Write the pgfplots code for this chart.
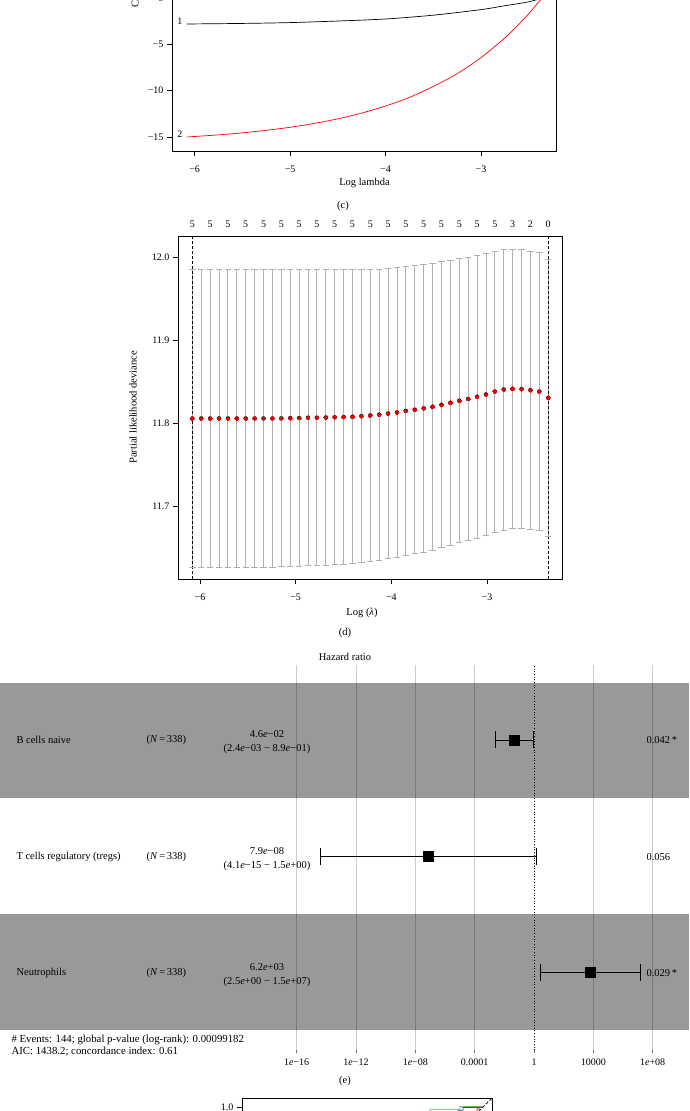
\documentclass[border=0pt]{standalone}
\usepackage{fontspec}
\setmainfont{Liberation Serif}
\usepackage{pgfplots}
\usepackage{pgfplotstable}
\pgfplotsset{compat=1.18}

\definecolor{errgray}{HTML}{B0B0B0}
\definecolor{cvred}{HTML}{F00000}
\definecolor{rocgreen}{HTML}{62B562}
\definecolor{rocblue}{HTML}{2E4B9B}
\definecolor{rocred}{HTML}{E8262B}

\newcommand{\lbl}{\fontsize{10.5}{12}\selectfont}
\newcommand{\tck}{\fontsize{10}{12}\selectfont}

% cross-validation curve (log lambda, deviance, se)
\pgfplotstableread{
x y e
-6.080 11.8056 0.1788
-5.987 11.8056 0.1788
-5.894 11.8056 0.1788
-5.801 11.8056 0.1788
-5.708 11.8056 0.1788
-5.615 11.8056 0.1788
-5.522 11.8056 0.1788
-5.429 11.8056 0.1788
-5.336 11.8056 0.1788
-5.243 11.8056 0.1788
-5.150 11.8057 0.1787
-5.057 11.8060 0.1784
-4.964 11.8061 0.1783
-4.871 11.8064 0.1780
-4.778 11.8065 0.1779
-4.685 11.8068 0.1776
-4.592 11.8070 0.1774
-4.499 11.8073 0.1771
-4.406 11.8077 0.1767
-4.313 11.8084 0.1762
-4.220 11.8092 0.1758
-4.127 11.8101 0.1753
-4.034 11.8115 0.1745
-3.941 11.8129 0.1740
-3.848 11.8147 0.1734
-3.755 11.8161 0.1731
-3.662 11.8177 0.1729
-3.569 11.8196 0.1730
-3.476 11.8220 0.1720
-3.383 11.8244 0.1716
-3.290 11.8268 0.1708
-3.197 11.8290 0.1702
-3.104 11.8316 0.1702
-3.011 11.8344 0.1696
-2.918 11.8380 0.1692
-2.825 11.8404 0.1690
-2.732 11.8412 0.1684
-2.639 11.8408 0.1680
-2.546 11.8396 0.1676
-2.453 11.8380 0.1676
-2.360 11.8304 0.1664
}\cvdata

% number of nonzero coefficients (top axis)
\pgfplotstableread{
x y n
-6.080 12.0252 5
-5.894 12.0252 5
-5.708 12.0252 5
-5.522 12.0252 5
-5.336 12.0252 5
-5.150 12.0252 5
-4.964 12.0252 5
-4.778 12.0252 5
-4.592 12.0252 5
-4.406 12.0252 5
-4.220 12.0252 5
-4.034 12.0252 5
-3.848 12.0252 5
-3.662 12.0252 5
-3.476 12.0252 5
-3.290 12.0252 5
-3.104 12.0252 5
-2.918 12.0252 5
-2.732 12.0252 3
-2.546 12.0252 2
-2.360 12.0252 0
}\nzdata

\pgfplotsset{
  rstyle/.style={
    scale only axis,
    axis line style={black, line width=0.8pt},
    tick align=outside,
    major tick length=5pt,
    tick style={black, line width=0.8pt},
    xtick pos=bottom, ytick pos=left,
    ticklabel style={font=\tck},
    xticklabel style={yshift=-6.5pt},
    /pgf/number format/assume math mode=true,
  }
}

\begin{document}
\begin{tikzpicture}
\useasboundingbox (0pt,0pt) rectangle (689pt,1111pt);
\clip (0pt,0pt) rectangle (689pt,1111pt);

% ---- (c) coefficient paths
\begin{axis}[rstyle,
  at={(172pt,960pt)}, anchor=south west,
  width=384pt, height=343pt,
  xmin=-6.237, xmax=-2.214, ymin=-16.51, ymax=20.49,
  xtick={-6,-5,-4,-3}, xticklabels={−6,−5,−4,−3},
  ytick={-15,-10,-5,0},
  yticklabels={−15,−10,−5,0},
]
\addplot[black, line width=0.7pt, smooth] coordinates {
  (-6.08,-2.81) (-5.5,-2.75) (-5.0,-2.66) (-4.5,-2.49) (-4.0,-2.27)
  (-3.5,-1.86) (-3.0,-1.26) (-2.75,-0.84) (-2.5,-0.42) (-2.36,0)};
\addplot[red, line width=0.7pt, smooth] coordinates {
  (-6.08,-15.0) (-5.75,-14.77) (-5.5,-14.55) (-5.25,-14.28) (-5.0,-13.95)
  (-4.75,-13.54) (-4.5,-13.04) (-4.25,-12.42) (-4.0,-11.66) (-3.75,-10.73)
  (-3.5,-9.55) (-3.25,-8.17) (-3.0,-6.44) (-2.75,-4.31) (-2.6,-2.8)
  (-2.5,-1.7) (-2.4,-0.49) (-2.36,0)};
\node[font=\tck] at (axis cs:-6.155,-2.55) {1};
\node[font=\tck] at (axis cs:-6.155,-14.75) {2};
\end{axis}

% ---- (d) cross-validation
\begin{axis}[rstyle,
  at={(178pt,532pt)}, anchor=south west,
  width=384pt, height=343pt,
  xmin=-6.230, xmax=-2.216, ymin=11.6124, ymax=12.0252,
  xtick={-6,-5,-4,-3}, xticklabels={−6,−5,−4,−3},
  ytick={11.7,11.8,11.9,12.0}, yticklabels={11.7,11.8,11.9,12.0},
  clip=false,
]
% error bars (mean +- se) with caps
\addplot[only marks, mark=none,
  error bars/.cd, y dir=both, y explicit, error mark=none,
  error bar style={color=errgray, line width=0.9pt}]
  table[x=x, y=y, y error=e] {\cvdata};
\addplot[only marks, mark=-, mark size=3.2pt, mark options={errgray, line width=0.9pt}]
  table[x=x, y expr=\thisrow{y}+\thisrow{e}] {\cvdata};
\addplot[only marks, mark=-, mark size=3.2pt, mark options={errgray, line width=0.9pt}]
  table[x=x, y expr=\thisrow{y}-\thisrow{e}] {\cvdata};
\addplot[only marks, mark=*, mark size=1.9pt, mark options={draw=cvred, fill=cvred, line width=0pt}]
  table[x=x, y=y] {\cvdata};
\addplot[black, line width=0.7pt, dash pattern=on 3pt off 2pt] coordinates {(-6.080,11.6124) (-6.080,12.0252)};
\addplot[black, line width=0.7pt, dash pattern=on 3pt off 2pt] coordinates {(-2.360,11.6124) (-2.360,12.0252)};
\addplot[draw=none, mark=none, nodes near coords, point meta=explicit symbolic,
  nodes near coords style={font=\tck, anchor=center, yshift=12pt, text=black}]
  table[x=x, y=y, meta=n] {\nzdata};
\end{axis}

% ---- (e) forest plot
\begin{axis}[
  at={(0pt,61pt)}, anchor=south west, scale only axis,
  width=689pt, height=385pt,
  xmode=log, log basis x=10,
  xmin=1e-36, xmax=2.8e10, ymin=0, ymax=385,
  axis line style={draw=none}, ytick=\empty,
  xtick={1e-16,1e-12,1e-8,1e-4,1e4,1e8},
  xticklabels={1\textit{e}−16,1\textit{e}−12,1\textit{e}−08,0.0001,10000,1\textit{e}+08},
  extra x ticks={1}, extra x tick labels={1},
  extra x tick style={grid=none},
  xmajorgrids, major grid style={color=black!20, line width=0.6pt},
  xtick pos=bottom, tick align=outside, major tick length=3pt,
  tick style={black!55, line width=0.6pt},
  ticklabel style={font=\tck},
  xticklabel style={yshift=-2pt},
  clip=false,
]
\fill[black, fill opacity=0.4] (axis cs:1e-36,252) rectangle (axis cs:2.8e10,367);
\fill[black, fill opacity=0.4] (axis cs:1e-36,20) rectangle (axis cs:2.8e10,136);
\draw[black, dotted, line width=0.7pt] (axis cs:1,0) -- (axis cs:1,385);
\addplot[black, line width=0.7pt, mark=|, mark size=8.5pt] coordinates {(0.0024,310) (0.89,310)};
\addplot[black, line width=0.7pt, mark=|, mark size=8.5pt] coordinates {(4.1e-15,193.3) (1.5,193.3)};
\addplot[black, line width=0.7pt, mark=|, mark size=8.5pt] coordinates {(2.5,77.3) (1.5e7,77.3)};
\addplot[only marks, mark=square*, mark size=5pt, black] coordinates {(0.046,310) (7.9e-8,193.3) (6.2e3,77.3)};
\end{axis}

% ---- (f) ROC curves (top edge only)
\begin{axis}[rstyle,
  at={(242pt,-237pt)}, anchor=south west,
  width=250pt, height=250pt,
  xmin=-0.04, xmax=1.04, ymin=-0.04, ymax=1.04,
  xtick=\empty,
  ytick={1}, yticklabels={1.0},
]
\addplot[rocgreen, line width=0.8pt] coordinates {
  (0,0) (0.05,0.25) (0.15,0.5) (0.3,0.7) (0.5,0.85) (0.7,0.95)
  (0.772,0.97) (0.772,0.991) (0.902,0.991) (0.902,1.003) (1,1.003)};
\addplot[rocblue, line width=0.8pt] coordinates {
  (0,0) (0.05,0.2) (0.15,0.45) (0.3,0.66) (0.5,0.82) (0.7,0.92)
  (0.85,0.97) (0.893,0.975) (0.893,0.987) (0.915,0.987) (0.915,0.999) (1,0.999)};
\addplot[rocred, line width=0.8pt] coordinates {
  (0,0) (0.05,0.18) (0.15,0.4) (0.3,0.6) (0.5,0.78) (0.7,0.88)
  (0.9,0.94) (0.96,0.96) (0.965,0.98) (0.975,0.98) (0.975,0.992)
  (0.985,0.992) (0.985,1) (1,1)};
\addplot[black, line width=0.7pt, dash pattern=on 3pt off 2pt] coordinates {(-0.04,-0.04) (1.04,1.04)};
\end{axis}

% ---- texts
\node[font=\lbl, rotate=90, anchor=west] at (135pt,1100pt) {Coefficients};
\node[font=\lbl] at (364.5pt,928pt) {Log lambda};
\node[font=\lbl] at (343pt,905pt) {(c)};
\node[font=\lbl, rotate=90] at (133pt,703.5pt) {Partial likelihood deviance};
\node[font=\lbl] at (362pt,498pt) {Log (\textit{λ})};
\node[font=\lbl] at (345pt,478pt) {(d)};
\node[font=\lbl] at (345pt,454pt) {Hazard ratio};

\node[font=\lbl, anchor=west] at (13pt,371pt) {B cells naive};
\node[font=\lbl, anchor=west] at (143pt,371pt) {(\textit{N}\,=\,338)};
\node[font=\lbl] at (267pt,377pt) {4.6\textit{e}−02};
\node[font=\lbl] at (267pt,362.3pt) {(2.4\textit{e}−03 − 8.9\textit{e}−01)};
\node[font=\lbl, anchor=west] at (643pt,371pt) {0.042\,*};

\node[font=\lbl, anchor=west] at (13pt,254pt) {T cells regulatory (tregs)};
\node[font=\lbl, anchor=west] at (143pt,254pt) {(\textit{N}\,=\,338)};
\node[font=\lbl] at (267pt,260pt) {7.9\textit{e}−08};
\node[font=\lbl] at (267pt,245.3pt) {(4.1\textit{e}−15 − 1.5\textit{e}+00)};
\node[font=\lbl, anchor=west] at (643pt,254pt) {0.056};

\node[font=\lbl, anchor=west] at (13pt,138pt) {Neutrophils};
\node[font=\lbl, anchor=west] at (143pt,138pt) {(\textit{N}\,=\,338)};
\node[font=\lbl] at (267pt,144pt) {6.2\textit{e}+03};
\node[font=\lbl] at (267pt,129.3pt) {(2.5\textit{e}+00 − 1.5\textit{e}+07)};
\node[font=\lbl, anchor=west] at (643pt,138pt) {0.029\,*};

\node[font=\fontsize{10.8}{12}\selectfont, anchor=west] at (8pt,71pt) {\# Events: 144; global p-value (log-rank): 0.00099182};
\node[font=\fontsize{10.8}{12}\selectfont, anchor=west] at (8pt,59pt) {AIC: 1438.2; concordance index: 0.61};
\node[font=\lbl] at (345pt,30pt) {(e)};
\end{tikzpicture}
\end{document}
